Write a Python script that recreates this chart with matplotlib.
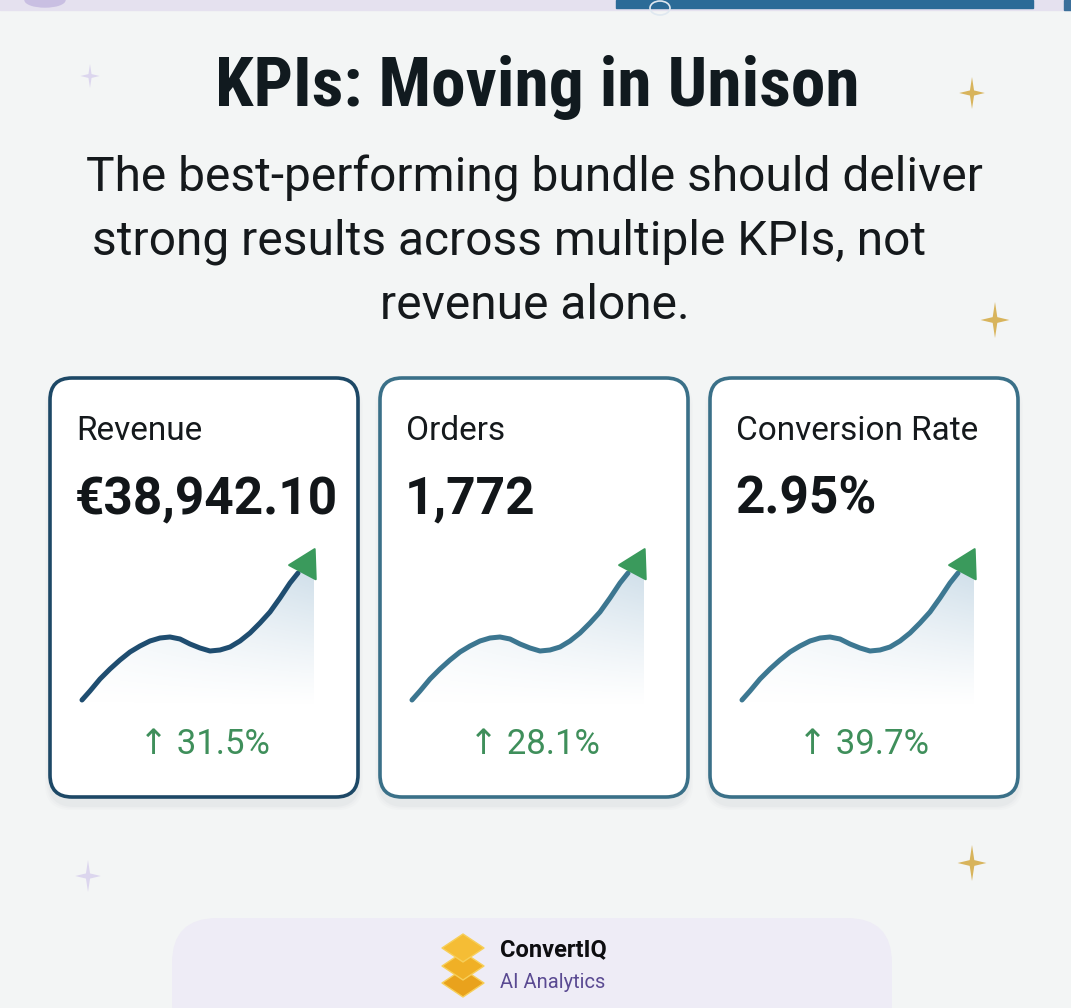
import numpy as np
import matplotlib
matplotlib.use("Agg")
import matplotlib.pyplot as plt
from matplotlib.patches import FancyBboxPatch, PathPatch, Polygon, Rectangle, Ellipse
from matplotlib.path import Path
from matplotlib.markers import MarkerStyle
from matplotlib import font_manager as fm

# ---------------- data ----------------
title = "KPIs: Moving in Unison"
subtitle_lines = ["The best-performing bundle should deliver",
                  "strong results across multiple KPIs, not",
                  "revenue alone."]
kpi_names = ["Revenue", "Orders", "Conversion Rate"]
kpi_values = ["€38,942.10", "1,772", "2.95%"]
kpi_changes = ["31.5%", "28.1%", "39.7%"]
# sparkline (same shape on every card)
spark_x = [0, 8, 18, 28, 38, 48, 58, 68, 78, 88, 98, 108, 118, 128, 138, 148,
           158, 168, 178, 188, 198, 208, 216]
spark_y = [0, 9, 21, 31, 40, 48, 54, 59, 62, 63, 61, 56, 52, 49, 50, 53,
           59, 67, 77, 88, 102, 117, 127]
brand = "ConvertIQ"
brand_sub = "AI Analytics"

# ---------------- fonts ----------------
names = {f.name for f in fm.fontManager.ttflist}
TITLE_FONT, TITLE_SIZE = "Roboto", 44.5
for cand, size in [("Roboto Condensed", 50), ("Liberation Sans Narrow", 49)]:
    if cand in names:
        TITLE_FONT, TITLE_SIZE = cand, size
        break
BASE = ["Roboto", "DejaVu Sans"]

W, H = 1071, 1008
fig = plt.figure(figsize=(W / 100, H / 100), dpi=100)
fig.patch.set_facecolor("#f3f5f5")
bg = fig.add_axes([0, 0, 1, 1])
bg.set_xlim(0, W)
bg.set_ylim(H, 0)
bg.axis("off")

# top band (edge of the previous slide)
bg.add_patch(Rectangle((0, 0), W, 10, color="#e5e1ef", zorder=1))
bg.add_patch(Rectangle((616, 0), 417, 8, color="#2b6b97", zorder=2))
bg.add_patch(Ellipse((660, 8), 20, 14, fill=False, ec="#dfe8f0", lw=1.2, zorder=3))
bg.add_patch(Ellipse((45, 0), 40, 14, color="#c9bfe2", zorder=2))
bg.add_patch(Rectangle((1064, 0), 7, 10, color="#3b6f9a", zorder=2))


def sparkle(cx, cy, r, color, a=0.16):
    verts = [(0, 1), (a, a), (1, 0), (a, -a), (0, -1), (-a, -a), (-1, 0), (-a, a), (0, 1)]
    verts = [(cx + vx * r * 0.8, cy - vy * r) for vx, vy in verts]
    codes = [Path.MOVETO] + [Path.LINETO] * 7 + [Path.CLOSEPOLY]
    bg.add_patch(PathPatch(Path(verts, codes), fc=color, ec="none", zorder=2))


sparkle(90, 76, 12, "#dcd6ee")
sparkle(972, 93, 16, "#d8b45c")
sparkle(995, 320, 18, "#d8b45c")
sparkle(88, 876, 16, "#dcd6ee")
sparkle(972, 863, 18, "#d8b45c")

# title + subtitle
bg.text(537, 87, title, ha="center", va="center", fontsize=TITLE_SIZE, fontweight="bold",
        family=[TITLE_FONT, "DejaVu Sans"], color="#111a1f", zorder=5)
sub_x = [535, 509, 535]
for i, line in enumerate(subtitle_lines):
    bg.text(sub_x[i], 178 + i * 64, line, ha="center", va="center", fontsize=34.5,
            family=BASE, color="#15191c", zorder=5)

# cards
card_left = [50, 380, 710]
card_w, card_top, card_h = 308, 378, 419
border_cols = ["#1d4866", "#3a7088", "#3a7088"]
line_cols = ["#1f4d70", "#3c7690", "#3d7892"]
green = "#3f8f5b"
arrow_marker = MarkerStyle((3, 0, -28), joinstyle="round")

for i in range(3):
    x0 = card_left[i]
    for grow, al in [(10, 0.018), (7, 0.025), (4, 0.035)]:
        bg.add_patch(FancyBboxPatch((x0 - grow / 2, card_top + 8 - grow / 2),
                                    card_w + grow, card_h + grow,
                                    boxstyle="round,pad=0,rounding_size=26",
                                    fc="#5a6a78", ec="none", alpha=al, zorder=3))
    bg.add_patch(FancyBboxPatch((x0, card_top), card_w, card_h,
                                boxstyle="round,pad=0,rounding_size=22",
                                fc="white", ec=border_cols[i], lw=2.6, zorder=4))
    bg.text(x0 + 26, 431, kpi_names[i], ha="left", va="center", fontsize=24,
            family=BASE, color="#15191c", zorder=6)
    bg.text(x0 + 25, 500, kpi_values[i], ha="left", va="center", fontsize=37,
            fontweight="bold", family=BASE, color="#121619", zorder=6)
    bg.text(x0 + 154, 745, "↑ " + kpi_changes[i], ha="center", va="center",
            fontsize=25, family=BASE, color=green, zorder=6)

    # sparkline axes: 1 data unit = 1 px ; data (0,0) at px (x0+32, 700)
    ox = x0 + 32
    ax_l, ax_r, ax_t, ax_b = x0 + 10, x0 + 300, 530, 720
    ax = fig.add_axes([ax_l / W, 1 - ax_b / H, (ax_r - ax_l) / W, (ax_b - ax_t) / H])
    xlim = (ax_l - ox, ax_r - ox)
    ylim = (700 - ax_b, 700 - ax_t)
    ax.axis("off")
    ax.patch.set_alpha(0)
    ax.set_zorder(7)

    edge_x = spark_x[-1] + 16
    fx = list(spark_x) + [edge_x, edge_x]
    fy = list(spark_y) + [spark_y[-1] + 8, spark_y[-1] - 6]
    poly = ax.fill_between(fx, fy, -6, color="none", lw=0)
    ny, nx = 200, 200
    yy, xx = np.mgrid[0:1:ny * 1j, 0:1:nx * 1j]
    alpha = 0.62 * yy ** 1.15 * (0.35 + 0.65 * xx)
    img = np.zeros((ny, nx, 4))
    img[..., 0], img[..., 1], img[..., 2] = 0.69, 0.79, 0.86
    img[..., 3] = alpha
    im = ax.imshow(img, extent=[0, edge_x, -6, spark_y[-1] + 8], origin="lower",
                   aspect="auto", zorder=1, interpolation="bilinear")
    im.set_clip_path(poly.get_paths()[0], transform=ax.transData)

    ax.plot(spark_x, spark_y, color=line_cols[i], lw=3.6, solid_capstyle="round",
            solid_joinstyle="round", zorder=3)
    # arrowhead a little beyond the last point
    ax.plot([spark_x[-1] + 7.5], [spark_y[-1] + 9], marker=arrow_marker, markersize=25,
            color="#3a9a5c", mec="#3a9a5c", mew=1.5, zorder=4)
    ax.set_xlim(*xlim)
    ax.set_ylim(*ylim)

# bottom brand pill
bg.add_patch(FancyBboxPatch((172, 918), 720, 130, boxstyle="round,pad=0,rounding_size=45",
                            fc="#eeecf6", ec="none", zorder=2))
for k, cy in enumerate([983, 966, 948]):
    col = ["#e9a21c", "#f0b026", "#f5bd35"][k]
    bg.add_patch(Polygon([(442, cy), (463, cy - 14), (484, cy), (463, cy + 14)], closed=True,
                         fc=col, ec="#f7cf5a", lw=1.0, joinstyle="round", zorder=3 + k))
bg.text(500, 950, brand, ha="left", va="center", fontsize=17, fontweight="bold",
        family=BASE, color="#0d0d10", zorder=6)
bg.text(500, 982, brand_sub, ha="left", va="center", fontsize=14.5,
        family=BASE, color="#5a4a92", zorder=6)

fig.savefig("out.png", dpi=100, facecolor=fig.get_facecolor())
